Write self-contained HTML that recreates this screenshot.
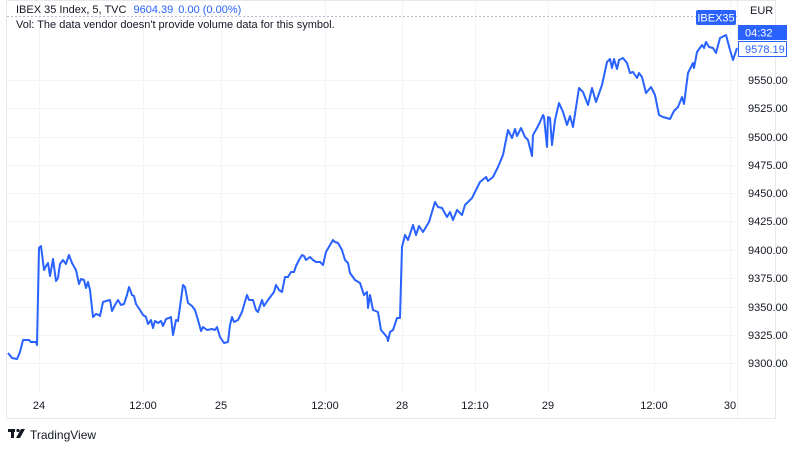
<!DOCTYPE html>
<html><head><meta charset="utf-8"><style>
html,body{margin:0;padding:0;background:#fff;width:800px;height:449px;overflow:hidden}
svg text{font-family:"Liberation Sans",sans-serif}
</style></head><body>
<svg width="800" height="449" viewBox="0 0 800 449" xmlns="http://www.w3.org/2000/svg">
<rect x="0" y="0" width="800" height="449" fill="#fff"/>
<rect x="6.5" y="0.5" width="769" height="418" fill="none" stroke="#e6e8ec"/>
<line x1="737.5" y1="0" x2="737.5" y2="418" stroke="#eef0f3"/>
<g stroke="#f3f4f6" stroke-width="1">
<line x1="7" x2="737" y1="80.5" y2="80.5"/><line x1="7" x2="737" y1="108.5" y2="108.5"/>
<line x1="7" x2="737" y1="137.5" y2="137.5"/><line x1="7" x2="737" y1="165.5" y2="165.5"/>
<line x1="7" x2="737" y1="193.5" y2="193.5"/><line x1="7" x2="737" y1="221.5" y2="221.5"/>
<line x1="7" x2="737" y1="250.5" y2="250.5"/><line x1="7" x2="737" y1="278.5" y2="278.5"/>
<line x1="7" x2="737" y1="307.5" y2="307.5"/><line x1="7" x2="737" y1="335.5" y2="335.5"/>
<line x1="7" x2="737" y1="363.5" y2="363.5"/>
<line y1="0" y2="392" x1="39.5" x2="39.5"/><line y1="0" y2="392" x1="143.5" x2="143.5"/>
<line y1="0" y2="392" x1="221.5" x2="221.5"/><line y1="0" y2="392" x1="325.5" x2="325.5"/>
<line y1="0" y2="392" x1="402.5" x2="402.5"/><line y1="0" y2="392" x1="475.5" x2="475.5"/>
<line y1="0" y2="392" x1="548.5" x2="548.5"/><line y1="0" y2="392" x1="654.5" x2="654.5"/>
<line y1="0" y2="392" x1="730.5" x2="730.5"/>
</g>
<line x1="7" x2="737" y1="16.5" y2="16.5" stroke="#b8bdd0" stroke-dasharray="2,2"/>
<polyline fill="none" stroke="#2962ff" stroke-width="2" stroke-linejoin="round" points="8,353 12,358 17,359 20,352 23,340 25,340 29,340 31,342 36,342 37,345 39,248 41,246 44,270 46,266 48,263 50,276 53,259 56,281 58,278 60,264 63,260 66,264 69,255 72,263 76,270 79,284 81,279 84,280 86,288 88,282 90,290 93,317 96,314 99,315 100,316 103,302 106,301 110,300 112,311 115,305 118,300 121,305 124,304 127,295 129,287 132,295 134,296 136,304 140,310 143,315 146,317 148,324 151,320 153,328 155,321 158,323 161,321 163,326 166,319 169,318 171,317 173,335 176,320 178,321 183,285 185,287 188,303 192,306 195,310 198,320 201,331 203,327 207,330 212,329 215,330 217,327 220,337 224,343 228,342 230,325 232,317 234,322 238,320 242,312 244,305 247,295 249,300 253,300 256,310 258,312 262,300 264,306 268,300 271,296 274,292 276,285 279,290 282,292 285,277 288,277 291,272 294,272 296,266 299,260 302,255 304,256 306,260 310,257 313,260 316,262 320,262 323,265 326,252 330,245 333,240 335,242 338,243 342,250 345,260 348,263 350,273 355,280 360,283 364,295 367,292 368,308 370,295 373,310 378,312 381,330 387,337 388,341 390,332 393,330 397,318 400,318 402,247 405,235 408,240 413,225 416,235 419,226 423,232 429,222 435,202 438,207 442,208 447,217 450,212 453,220 457,210 462,215 465,205 472,198 480,182 486,177 488,181 493,177 498,167 503,155 508,130 512,138 515,129 517,136 521,128 525,137 528,140 532,156 533,135 537,128 540,122 543,115 544,117 547,147 548,117 550,118 552,145 555,120 559,103 563,112 567,125 570,116 573,127 579,88 583,92 588,105 592,88 596,102 602,85 607,62 610,59 612,68 614,59 617,69 619,60 623,58 627,63 630,73 633,72 637,78 639,73 642,77 646,93 651,87 655,95 659,115 663,117 670,119 674,111 678,107 682,97 684,104 688,73 693,63 694,68 697,52 702,45 704,48 706,42 709,47 713,48 716,53 720,38 726,35 730,50 733,60 737,48"/>
<g font-size="11" fill="#131722">
<text x="748" y="84">9550.00</text><text x="748" y="112">9525.00</text>
<text x="748" y="141">9500.00</text><text x="748" y="169">9475.00</text>
<text x="748" y="197">9450.00</text><text x="748" y="225">9425.00</text>
<text x="748" y="254">9400.00</text><text x="748" y="282">9375.00</text>
<text x="748" y="311">9350.00</text><text x="748" y="339">9325.00</text>
<text x="748" y="367">9300.00</text>
<text x="750" y="14">EUR</text>
</g>
<rect x="696" y="10" width="40" height="15" rx="2" fill="#2962ff"/>
<text x="716" y="21.5" font-size="11" fill="#fff" text-anchor="middle">IBEX35</text>
<rect x="738" y="25" width="49" height="15" fill="#2962ff"/>
<text x="745" y="36.5" font-size="11" fill="#fff">04:32</text>
<rect x="738.5" y="41.5" width="48" height="15" fill="#fff" stroke="#2962ff"/>
<text x="745" y="53" font-size="11" fill="#2962ff">9578.19</text>
<g font-size="11" fill="#131722" text-anchor="middle">
<text x="39" y="409">24</text><text x="143" y="409">12:00</text><text x="221" y="409">25</text>
<text x="325" y="409">12:00</text><text x="402" y="409">28</text><text x="475" y="409">12:10</text>
<text x="548" y="409">29</text><text x="654" y="409">12:00</text><text x="730" y="409">30</text>
</g>
<text x="16" y="13" font-size="11" fill="#131722">IBEX 35 Index, 5, TVC <tspan fill="#2962ff" dx="4">9604.39</tspan><tspan fill="#2962ff" dx="5">0.00 (0.00%)</tspan></text>
<text x="16" y="28" font-size="11" fill="#131722">Vol: The data vendor doesn't provide volume data for this symbol.</text>
<g fill="#131722">
<rect x="8" y="429" width="7" height="3"/><rect x="11" y="429" width="3" height="9"/>
<circle cx="18" cy="430.5" r="1.6"/><polygon points="21,429 25,429 20,438 16,438"/>
</g>
<text x="30" y="439" font-size="12" fill="#131722">TradingView</text>
</svg>
</body></html>
